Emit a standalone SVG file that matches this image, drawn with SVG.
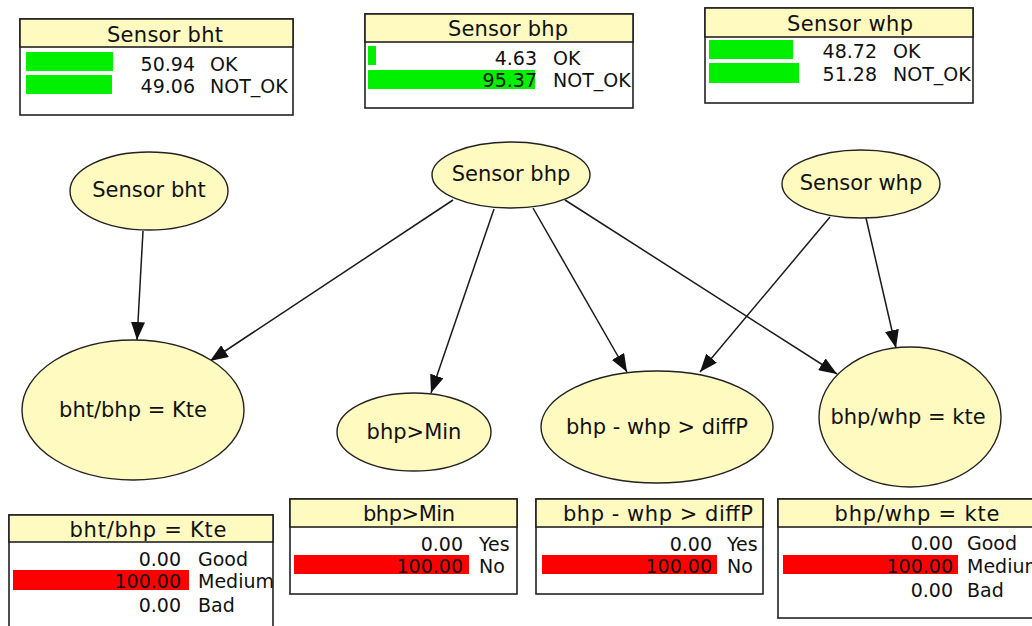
<svg xmlns="http://www.w3.org/2000/svg" width="1032" height="626" viewBox="0 0 1032 626">
  <defs>
    <marker id="arrow" viewBox="0 0 18 14" refX="18" refY="7" markerWidth="18" markerHeight="14" markerUnits="userSpaceOnUse" orient="auto">
      <path d="M0,0 L18,7 L0,14 z" fill="#111"/>
    </marker>
    <style>
      .node ellipse { fill: #fffac0; stroke: #222; stroke-width: 1.4; }
      .node text { font-family: "DejaVu Sans", sans-serif; font-size: 21px; fill: #111; text-anchor: middle; }
      .edges line { stroke: #1a1a1a; stroke-width: 1.5; marker-end: url(#arrow); }
      .panel .frame { fill: #fff; stroke: #222; stroke-width: 1.6; }
      .panel .head { fill: #fffac0; stroke: #222; stroke-width: 1.6; }
      .panel .title { font-family: "DejaVu Sans", sans-serif; font-size: 21px; fill: #111; text-anchor: middle; }
      .panel .val { font-family: "DejaVu Sans", sans-serif; font-size: 19px; fill: #111; text-anchor: end; }
      .panel .lab { font-family: "DejaVu Sans", sans-serif; font-size: 19px; fill: #111; }
      .g { fill: #00f000; }
      .r { fill: #ff0000; }
    </style>
  </defs>
  <rect width="1032" height="626" fill="#fff"/>

  <!-- connectors -->
  <g id="edges" class="edges">
    <line x1="143" y1="231" x2="137" y2="340"/>
    <line x1="453" y1="200" x2="210" y2="361"/>
    <line x1="494" y1="209" x2="431" y2="393"/>
    <line x1="533" y1="208" x2="627" y2="372"/>
    <line x1="565" y1="200" x2="837" y2="374"/>
    <line x1="830" y1="217" x2="700" y2="372"/>
    <line x1="866" y1="218" x2="896" y2="348"/>
  </g>

  <!-- nodes -->
  <g id="node-sensor-bht" class="node">
    <ellipse cx="149" cy="191" rx="79" ry="39"/>
    <text x="149" y="197">Sensor bht</text>
  </g>
  <g id="node-sensor-bhp" class="node">
    <ellipse cx="511" cy="175" rx="79" ry="33"/>
    <text x="511" y="181">Sensor bhp</text>
  </g>
  <g id="node-sensor-whp" class="node">
    <ellipse cx="861" cy="184" rx="79" ry="34"/>
    <text x="861" y="190">Sensor whp</text>
  </g>
  <g id="node-bht-bhp" class="node">
    <ellipse cx="133" cy="410" rx="111" ry="70"/>
    <text x="133" y="417">bht/bhp = Kte</text>
  </g>
  <g id="node-bhp-min" class="node">
    <ellipse cx="414" cy="432" rx="77" ry="39"/>
    <text x="414" y="439">bhp&gt;Min</text>
  </g>
  <g id="node-diffp" class="node">
    <ellipse cx="657" cy="427" rx="116" ry="56"/>
    <text x="657" y="434">bhp - whp &gt; diffP</text>
  </g>
  <g id="node-bhp-whp" class="node">
    <ellipse cx="910" cy="417" rx="91" ry="70"/>
    <text x="908" y="424">bhp/whp = kte</text>
  </g>

  <!-- belief panels -->
  <g id="panel-sensor-bht" class="panel">
    <rect class="frame" x="20" y="19" width="273" height="96"/>
    <rect class="head" x="20" y="19" width="273" height="28"/>
    <text class="title" x="165" y="42" textLength="116">Sensor bht</text>
    <rect class="g" x="26" y="52" width="87" height="19"/>
    <rect class="g" x="26" y="75" width="86" height="19"/>
    <text class="val" x="195" y="71">50.94</text><text class="lab" x="210" y="71">OK</text>
    <text class="val" x="195" y="93">49.06</text><text class="lab" x="210" y="93">NOT_OK</text>
  </g>
  <g id="panel-sensor-bhp" class="panel">
    <rect class="frame" x="365" y="14" width="268" height="94"/>
    <rect class="head" x="365" y="14" width="268" height="28"/>
    <text class="title" x="508" y="36" textLength="120">Sensor bhp</text>
    <rect class="g" x="368" y="46" width="8" height="19"/>
    <rect class="g" x="368" y="70" width="167" height="19"/>
    <text class="val" x="537" y="65">4.63</text><text class="lab" x="553" y="65">OK</text>
    <text class="val" x="537" y="87">95.37</text><text class="lab" x="553" y="87">NOT_OK</text>
  </g>
  <g id="panel-sensor-whp" class="panel">
    <rect class="frame" x="705" y="8" width="268" height="95"/>
    <rect class="head" x="705" y="8" width="268" height="29"/>
    <text class="title" x="850" y="31" textLength="126">Sensor whp</text>
    <rect class="g" x="709" y="40" width="84" height="19"/>
    <rect class="g" x="709" y="63" width="90" height="20"/>
    <text class="val" x="877" y="58">48.72</text><text class="lab" x="893" y="58">OK</text>
    <text class="val" x="877" y="81">51.28</text><text class="lab" x="893" y="81">NOT_OK</text>
  </g>
  <g id="panel-bht-bhp" class="panel">
    <rect class="frame" x="9" y="515" width="264" height="125"/>
    <rect class="head" x="9" y="515" width="264" height="27"/>
    <text class="title" x="148" y="537" textLength="157">bht/bhp = Kte</text>
    <rect class="r" x="13" y="570" width="176" height="20"/>
    <text class="val" x="181" y="566">0.00</text><text class="lab" x="198" y="566">Good</text>
    <text class="val" x="181" y="588">100.00</text><text class="lab" x="198" y="588">Medium</text>
    <text class="val" x="181" y="612">0.00</text><text class="lab" x="198" y="612">Bad</text>
  </g>
  <g id="panel-bhp-min" class="panel">
    <rect class="frame" x="290" y="499" width="227" height="95"/>
    <rect class="head" x="290" y="499" width="227" height="28"/>
    <text class="title" x="409" y="521" textLength="92">bhp&gt;Min</text>
    <rect class="r" x="294" y="555" width="175" height="19"/>
    <text class="val" x="463" y="551">0.00</text><text class="lab" x="479" y="551">Yes</text>
    <text class="val" x="463" y="573">100.00</text><text class="lab" x="479" y="573">No</text>
  </g>
  <g id="panel-diffp" class="panel">
    <rect class="frame" x="536" y="499" width="227" height="95"/>
    <rect class="head" x="536" y="499" width="227" height="28"/>
    <text class="title" x="658" y="521" textLength="190">bhp - whp &gt; diffP</text>
    <rect class="r" x="542" y="555" width="175" height="19"/>
    <text class="val" x="712" y="551">0.00</text><text class="lab" x="727" y="551">Yes</text>
    <text class="val" x="712" y="573">100.00</text><text class="lab" x="727" y="573">No</text>
  </g>
  <g id="panel-bhp-whp" class="panel">
    <rect class="frame" x="778" y="499" width="266" height="119"/>
    <rect class="head" x="778" y="499" width="266" height="28"/>
    <text class="title" x="917" y="521" textLength="165">bhp/whp = kte</text>
    <rect class="r" x="783" y="555" width="175" height="19"/>
    <text class="val" x="953" y="550">0.00</text><text class="lab" x="967" y="550">Good</text>
    <text class="val" x="953" y="573">100.00</text><text class="lab" x="967" y="573">Medium</text>
    <text class="val" x="953" y="597">0.00</text><text class="lab" x="967" y="597">Bad</text>
  </g>
</svg>
